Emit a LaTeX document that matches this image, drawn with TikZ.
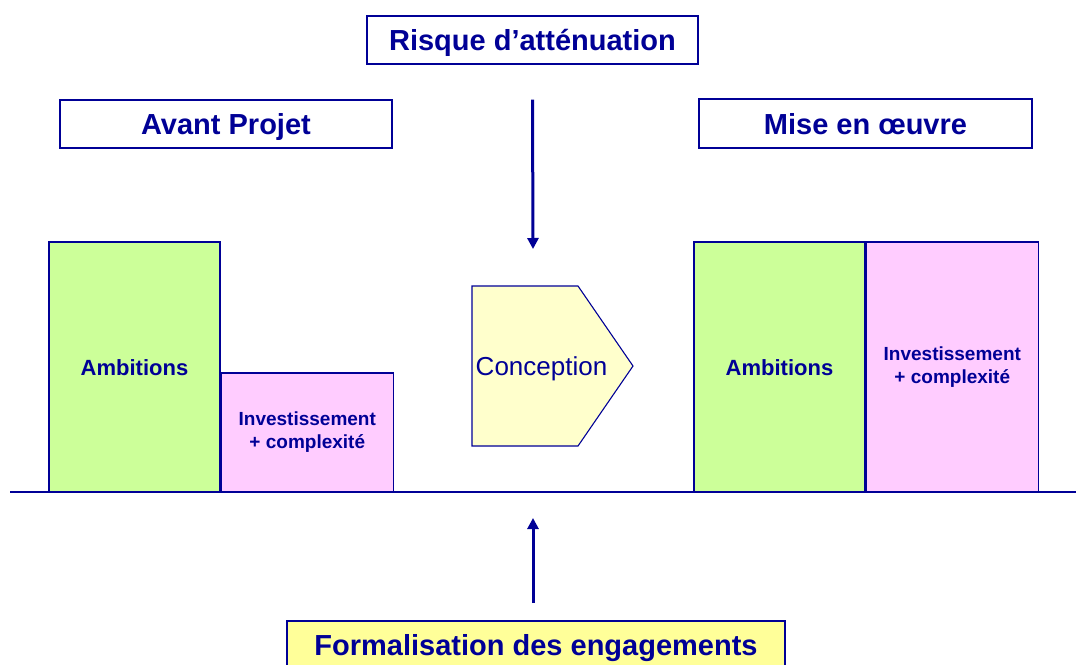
\documentclass[tikz,border=0pt]{standalone}
\usepackage{fontspec}
\setmainfont{Liberation Sans}
\usetikzlibrary{positioning, arrows.meta}

\definecolor{navy}{RGB}{0,0,150}
\definecolor{ambgreen}{RGB}{204,255,153}
\definecolor{invpink}{RGB}{255,204,255}
\definecolor{concyellow}{RGB}{255,255,204}
\definecolor{formyellow}{RGB}{255,255,153}

\tikzset{
  titlebox/.style={draw=navy, line width=1.3pt, fill=white, text=navy,
    font=\fontsize{29}{33}\selectfont\bfseries, inner sep=0pt,
    text height=21pt, text depth=0pt},
  ambbox/.style={draw=navy, line width=1.3pt, fill=ambgreen, text=navy,
    font=\fontsize{22}{26}\selectfont\bfseries, inner sep=0pt,
    text height=16pt, text depth=0pt,
    minimum width=171pt, minimum height=250pt},
  invbox/.style={draw=navy, line width=1.3pt, fill=invpink, text=navy,
    font=\fontsize{19}{23}\selectfont\bfseries, align=center, inner sep=0pt,
    minimum width=172pt},
}

\begin{document}
\begin{tikzpicture}[x=1pt, y=-1pt, >={Triangle[length=11pt, width=11pt]}]
  \useasboundingbox (0,0) rectangle (1076,664);
  \begin{scope}
  \clip (0,0) rectangle (1076,664);

  % titres
  \node[titlebox, minimum width=331pt, minimum height=48pt] (risque) at (532.5,40) {Risque d’atténuation};
  \node[titlebox, minimum width=332pt, minimum height=48pt] (avant) at (226,124) {Avant Projet};
  \node[titlebox, minimum width=333pt, minimum height=49pt] (mise) at (865.5,123.5) {Mise en œuvre};
  \node[titlebox, fill=formyellow, minimum width=498pt, minimum height=48pt] (formal) at (536,645) {Formalisation des engagements};

  % avant projet
  \node[ambbox] (ambL) at (134.5,367) {Ambitions};
  \node[invbox, minimum height=119pt, anchor=south west] (invL) at (ambL.south east) {Investissement\\+ complexité};

  % mise en oeuvre
  \node[ambbox] (ambR) at (779.5,367) {Ambitions};
  \node[invbox, minimum height=250pt, anchor=south west] (invR) at (ambR.south east) {Investissement\\+ complexité};

  % conception
  \coordinate (cA) at (472,286);
  \coordinate (cB) at (578,286);
  \coordinate (cTip) at (633,366);
  \coordinate (cC) at (578,446);
  \coordinate (cD) at (472,446);
  \draw[navy, line width=1.1pt, fill=concyellow] (cA) -- (cB) -- (cTip) -- (cC) -- (cD) -- cycle;
  \node[text=navy, font=\fontsize{26}{30}\selectfont, text height=18.7pt, text depth=0pt] (conc) at (541.5,366) {Conception};

  % ligne de base
  \coordinate (baseL) at (10,492);
  \coordinate (baseR) at (1076,492);
  \draw[navy, line width=1.2pt] (baseL) -- (baseR);

  % fleches
  \coordinate (topTip) at (533,249);
  \coordinate (botTail) at (533,603);
  \coordinate (botTip) at (533,518);
  \draw[->, navy, line width=3pt] ([yshift=-35pt]risque.south) -- (topTip);
  \draw[->, navy, line width=3pt] (botTail) -- (botTip);
  \end{scope}
\end{tikzpicture}
\end{document}
